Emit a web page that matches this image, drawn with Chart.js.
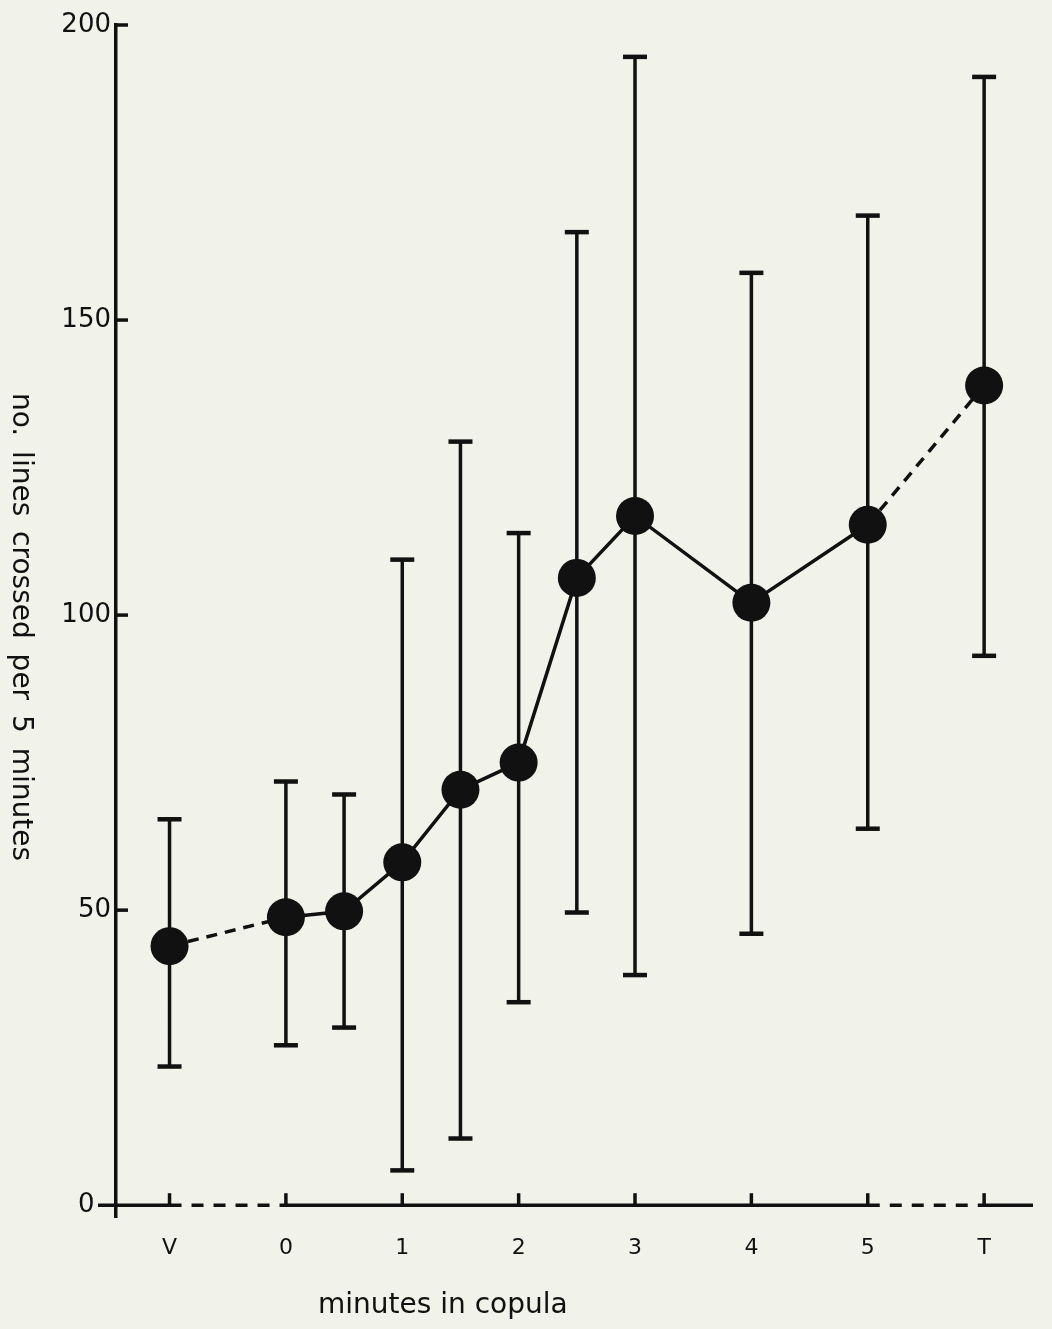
<!DOCTYPE html>
<html>
<head>
<meta charset="utf-8">
<script src="https://cdn.jsdelivr.net/npm/chart.js@4.4.1/dist/chart.umd.min.js"></script>
<style>
  html, body { margin: 0; padding: 0; background: #f1f2ea; }
  canvas { display: block; background: #f1f2ea; }
</style>
</head>
<body>
<canvas id="c" width="1052" height="1329"></canvas>
<script>
// ---- data ----
const categories = ['V', '0', '0.5', '1', '1.5', '2', '2.5', '3', '4', '5', 'T'];
const xValues   = [-1, 0, 0.5, 1, 1.5, 2, 2.5, 3, 4, 5, 6];
const means     = [43.9, 48.8, 49.8, 58.1, 70.4, 75.0, 106.3, 116.8, 102.1, 115.3, 138.9];
const errHigh   = [65.4, 71.8, 69.6, 109.4, 129.4, 113.9, 164.9, 194.6, 158.0, 167.7, 191.2];
const errLow    = [23.5, 27.1, 30.1, 5.9, 11.3, 34.4, 49.6, 39.0, 46.0, 63.8, 93.1];
const xTickValues = [-1, 0, 1, 2, 3, 4, 5, 6];
const xTickLabels = ['V', '0', '1', '2', '3', '4', '5', 'T'];
const yTickValues = [0, 50, 100, 150, 200];
const xTitle = 'minutes in copula';
const yTitle = 'no. lines crossed per 5 minutes';

const INK = '#111111';
const FONT = '"DejaVu Sans", sans-serif';

// points for main series
const meanPts = xValues.map((x, i) => ({ x: x, y: means[i] }));
// error bars: pairs separated by gaps
const errPts = [];
xValues.forEach((x, i) => {
  errPts.push({ x: x, y: errLow[i] });
  errPts.push({ x: x, y: errHigh[i] });
  errPts.push({ x: x, y: null });
});
const lastIdx = xValues.length - 1;

const axesPlugin = {
  id: 'paperAxes',
  beforeDatasetsDraw(chart) {
    const ctx = chart.ctx;
    const xs = chart.scales.x, ys = chart.scales.y;
    const area = chart.chartArea;
    const y0 = ys.getPixelForValue(0);
    const px = v => xs.getPixelForValue(v);
    ctx.save();
    ctx.strokeStyle = INK;
    ctx.lineWidth = 3.5;
    ctx.lineCap = 'butt';
    // x axis: solid, dashed (V->0), solid (0->5), dashed (5->T), solid
    const segs = [
      [area.left - 18, px(xTickValues[0]), []],
      [px(xTickValues[0]), px(xTickValues[1]), [12, 10]],
      [px(xTickValues[1]), px(xTickValues[6]), []],
      [px(xTickValues[6]), px(xTickValues[7]), [12, 10]],
      [px(xTickValues[7]), area.right, []]
    ];
    segs.forEach(s => {
      ctx.setLineDash(s[2]);
      ctx.beginPath();
      ctx.moveTo(s[0], y0);
      ctx.lineTo(s[1], y0);
      ctx.stroke();
    });
    ctx.setLineDash([]);
    // x ticks pointing up
    xTickValues.forEach(v => {
      const x = px(v);
      ctx.beginPath();
      ctx.moveTo(x, y0 + 1.5);
      ctx.lineTo(x, y0 - 12);
      ctx.stroke();
    });
    // y ticks pointing inward
    yTickValues.forEach(v => {
      if (v === 0) return;
      const y = ys.getPixelForValue(v);
      ctx.beginPath();
      ctx.moveTo(area.left, y);
      ctx.lineTo(area.left + 12, y);
      ctx.stroke();
    });
    // titles
    ctx.fillStyle = INK;
    ctx.font = '28px ' + FONT;
    ctx.textAlign = 'left';
    ctx.textBaseline = 'alphabetic';
    ctx.fillText(xTitle, 318, 1313);
    ctx.translate(13, 627);
    ctx.rotate(Math.PI / 2);
    ctx.textAlign = 'center';
    if ('wordSpacing' in ctx) ctx.wordSpacing = '6px';
    ctx.fillText(yTitle, 0, 0);
    ctx.restore();
  }
};

new Chart(document.getElementById('c'), {
  type: 'line',
  data: {
    datasets: [
      {
        label: 'mean',
        data: meanPts,
        borderColor: INK,
        borderWidth: 3.5,
        backgroundColor: INK,
        pointBackgroundColor: INK,
        pointBorderColor: INK,
        pointRadius: 19,
        pointBorderWidth: 0,
        pointHoverRadius: 19,
        tension: 0,
        clip: false,
        order: 0,
        segment: {
          borderDash: c => (c.p0DataIndex === 0 || c.p1DataIndex === lastIdx) ? [11, 8] : undefined
        }
      },
      {
        label: 'range',
        data: errPts,
        borderColor: INK,
        borderWidth: 3.5,
        spanGaps: false,
        pointStyle: 'line',
        pointRadius: 12,
        pointHoverRadius: 12,
        pointBorderWidth: 4.5,
        pointBorderColor: INK,
        clip: false,
        order: 1
      }
    ]
  },
  options: {
    responsive: false,
    devicePixelRatio: 1,
    animation: false,
    events: [],
    layout: { padding: { left: 0, right: 10, top: 25, bottom: 0 } },
    plugins: { legend: { display: false }, tooltip: { enabled: false } },
    scales: {
      x: {
        type: 'linear',
        position: 'bottom',
        min: -1.46,
        max: 6.42,
        afterBuildTicks: s => { s.ticks = xTickValues.map(v => ({ value: v })); },
        afterFit: s => { s.height = 112; },
        ticks: {
          autoSkip: false,
          maxRotation: 0,
          color: INK,
          padding: 18,
          font: { family: FONT, size: 22 },
          callback: (v) => xTickLabels[xTickValues.indexOf(v)]
        },
        grid: { display: false, drawTicks: false },
        border: { display: false }
      },
      y: {
        type: 'linear',
        position: 'left',
        min: -2,
        max: 200,
        afterBuildTicks: s => { s.ticks = yTickValues.map(v => ({ value: v })); },
        afterFit: s => { s.width = 116; },
        ticks: {
          color: INK,
          padding: 5,
          font: { family: FONT, size: 26 },
          callback: (v) => (v === 0 ? '0  ' : String(v))
        },
        grid: { display: false, drawTicks: false },
        border: { display: true, color: INK, width: 3.5 }
      }
    }
  },
  plugins: [axesPlugin]
});
</script>
</body>
</html>
